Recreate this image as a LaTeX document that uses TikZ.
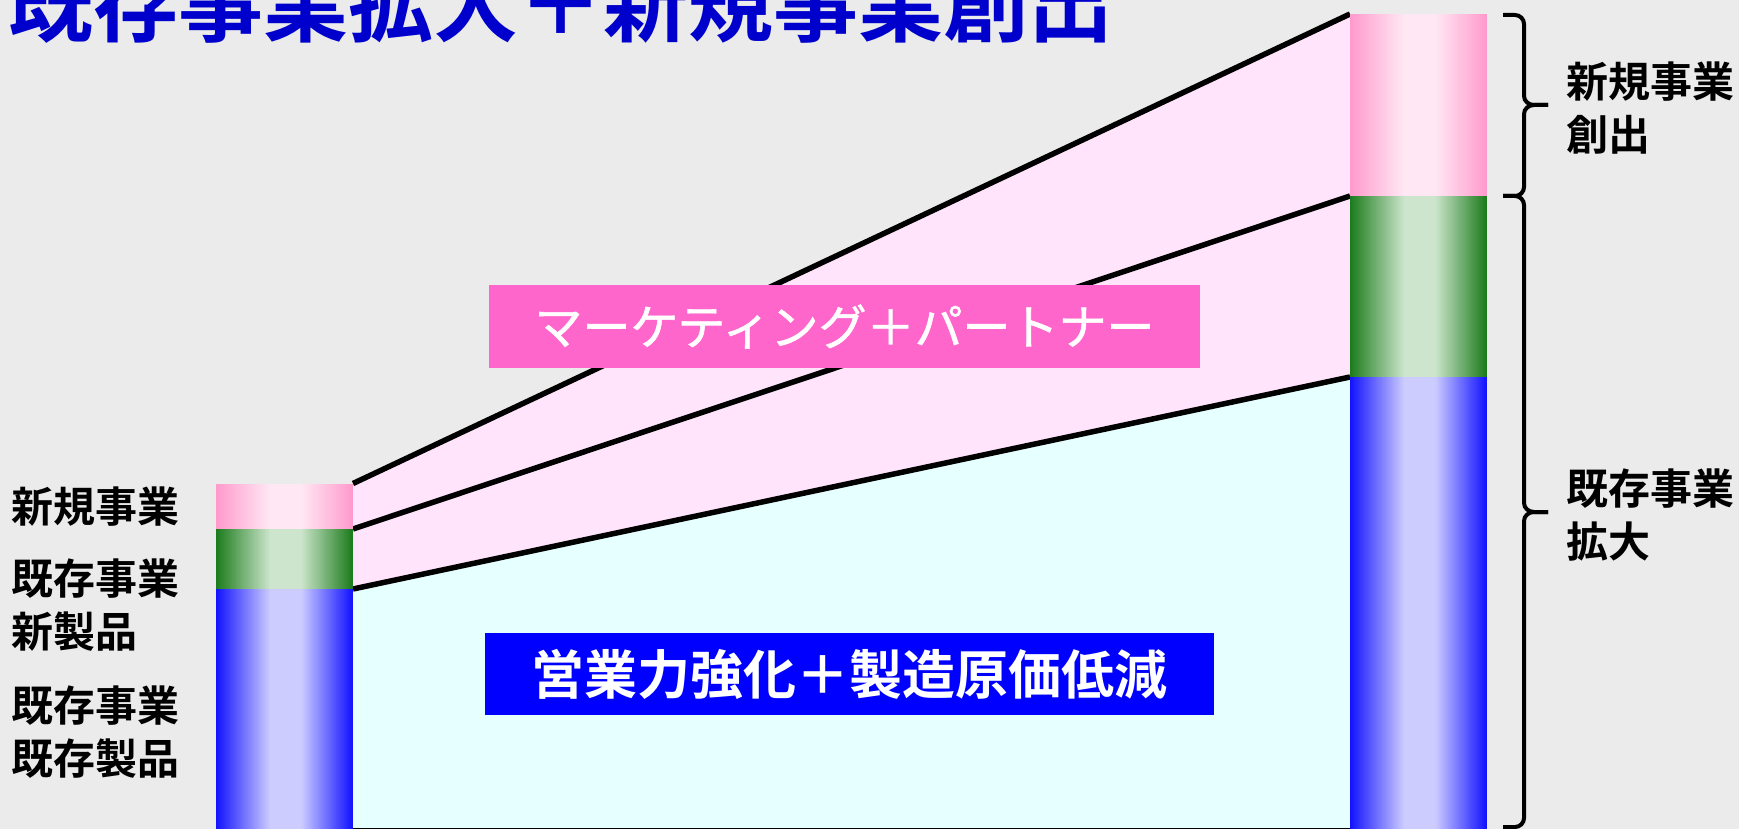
\documentclass[tikz,border=0pt]{standalone}
\usepackage{fontspec}
\setmainfont{Noto Sans CJK JP}[BoldFont={Noto Sans CJK JP Bold}]
\newfontfamily\medcjk{Noto Sans CJK JP}[FakeBold=1.2]
\definecolor{bg}{HTML}{EBEBEB}
\definecolor{pinkreg}{HTML}{FFE4FC}
\definecolor{cyanreg}{HTML}{E6FFFF}
\definecolor{pinkbox}{HTML}{FF66CC}
\definecolor{bluebox}{HTML}{0000FF}
\definecolor{titleblue}{HTML}{0000CC}
\definecolor{pinkE}{HTML}{FF99CC}
\definecolor{pinkC}{HTML}{FFE8F3}
\definecolor{greenE}{HTML}{1A7A1A}
\definecolor{greenC}{HTML}{CCE5CC}
\definecolor{blueE}{HTML}{1010FF}
\definecolor{blueC}{HTML}{CCCCFF}
% #1 = left x, #2 = top y, #3 = bottom y, #4 = edge colour, #5 = centre colour (bar width 137)
\newcommand\gradbar[5]{%
  \foreach \i in {0,...,136}{%
    \pgfmathsetmacro\tt{(\i+0.5)/137}%
    \pgfmathtruncatemacro\pp{\tt<0.4 ? 100*(1-\tt/0.4) : (\tt>0.62 ? 100*(\tt-0.62)/0.38 : 0)}%
    \pgfmathsetmacro\ww{\i<136 ? 1.3 : 1}%
    \fill[#4!\pp!#5] ({#1+\i},#2) rectangle ({#1+\i+\ww},#3);
  }%
}
\begin{document}
\begin{tikzpicture}[x=1pt,y=-1pt,
  seg/.style={draw=none,inner sep=0pt,outer sep=0pt,anchor=north west,minimum width=137pt},
  slant/.style={line width=5.5pt,black},
  bracestyle/.style={line width=4pt,black,line cap=butt},
  label/.style={inner sep=0pt,anchor=west,align=left,font=\bfseries\fontsize{42}{53}\selectfont},
  banner/.style={inner sep=0pt,text=white}
]
\clip (0,0) rectangle (1739,829);
\fill[bg] (0,0) rectangle (1739,829);

% title
\node[inner sep=0pt,anchor=base west,text=titleblue,font=\bfseries\fontsize{85}{90}\selectfont] (title) at (8,36) {既存事業拡大＋新規事業創出};

% bar segments (geometry)
\path
  (216,483.5) node[seg,minimum height=45.5pt] (lp) {}
  (216,529) node[seg,minimum height=60pt] (lg) {}
  (216,589) node[seg,minimum height=240pt] (lb) {}
  (1350,14) node[seg,minimum height=182pt] (rp) {}
  (1350,196) node[seg,minimum height=181pt] (rg) {}
  (1350,377) node[seg,minimum height=452pt] (rb) {};

% regions
\fill[pinkreg] (lp.north east) -- (rp.north west) -- (rb.north west) -- (lb.north east) -- cycle;
\fill[cyanreg] (lb.north east) -- (rb.north west) -- (rb.south west) -- (lb.south east) -- cycle;

% connectors
\draw[slant] (lp.north east) -- (rp.north west);
\draw[slant] (lg.north east) -- (rg.north west);
\draw[slant] (lb.north east) -- (rb.north west);
\draw[line width=3pt] (lb.south west) -- (rb.south east);

% bars
\gradbar{216}{483.5}{529}{pinkE}{pinkC}
\gradbar{216}{529}{589}{greenE}{greenC}
\gradbar{216}{589}{829}{blueE}{blueC}
\gradbar{1350}{14}{196}{pinkE}{pinkC}
\gradbar{1350}{196}{377}{greenE}{greenC}
\gradbar{1350}{377}{829}{blueE}{blueC}

% banners
\node[banner,fill=pinkbox,minimum width=711pt,minimum height=83pt,font=\medcjk\fontsize{48}{50}\selectfont] (mk) at (844.5,326.5) {マーケティング＋パートナー};
\node[banner,fill=bluebox,minimum width=729pt,minimum height=82pt,font=\bfseries\fontsize{53}{55}\selectfont] (ei) at (849.5,674) {営業力強化＋製造原価低減};

% left labels
\node[label] (l1) at (11,507) {新規事業};
\node[label] (l2) at (11,605.5) {既存事業\\新製品};
\node[label] (l3) at (11,732.5) {既存事業\\既存製品};

% braces
\coordinate (b1t) at (1503,15);
\coordinate (b1m) at (1548,105);
\coordinate (b1b) at (1503,196);
\coordinate (b2b) at (1503,827);
\coordinate (b2m) at (1548,512);
\draw[bracestyle] (b1t) -- (1515,15) to[out=0,in=90] (1524,24) -- (1524,96) to[out=-90,in=180] (1534,105) -- (b1m);
\draw[bracestyle] (b1m) -- (1534,105) to[out=180,in=90] (1524,114) -- (1524,187) to[out=-90,in=0] (1515,196) -- (b1b);
\draw[bracestyle] (b1b) -- (1515,196) to[out=0,in=90] (1524,205) -- (1524,503) to[out=-90,in=180] (1534,512) -- (b2m);
\draw[bracestyle] (b2m) -- (1534,512) to[out=180,in=90] (1524,521) -- (1524,818) to[out=-90,in=0] (1515,827) -- (b2b);

% right labels
\node[label] (r1) at (1566,108) {新規事業\\創出};
\node[label] (r2) at (1566,515) {既存事業\\拡大};
\end{tikzpicture}
\end{document}
